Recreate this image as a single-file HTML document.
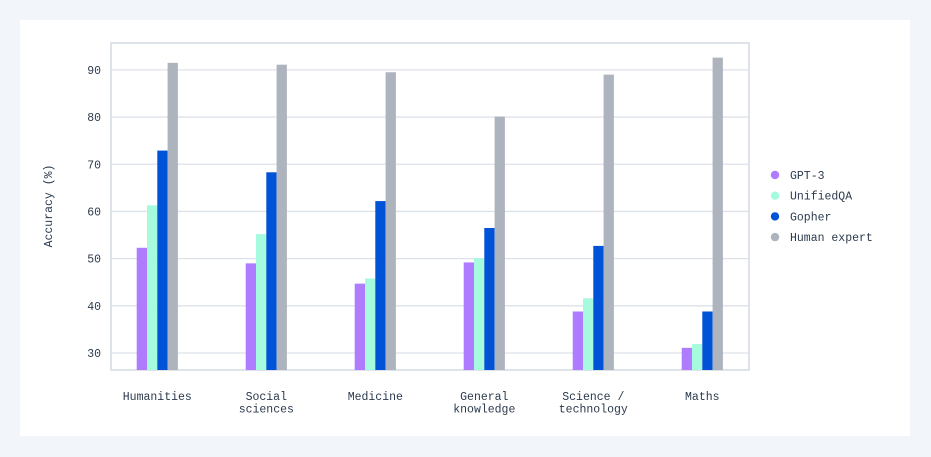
<!DOCTYPE html>
<html><head><meta charset="utf-8"><style>
html,body{margin:0;padding:0;background:#f2f5f9;width:931px;height:457px;overflow:hidden}
#card{position:absolute;left:20px;top:20px;width:890px;height:416px;background:#fff}
svg{position:absolute;left:0;top:0}
text{font-family:"Liberation Mono",monospace;font-size:11.5px;fill:#2b3a4d}
</style></head><body>
<div id="card"></div>
<svg id="chart" width="931" height="457"></svg>
<script>
const categories=[["Humanities"],["Social","sciences"],["Medicine"],["General","knowledge"],["Science /","technology"],["Maths"]];
const seriesNames=["GPT-3","UnifiedQA","Gopher","Human expert"];
const gpt3=[52.3,49.0,44.7,49.2,38.8,31.1];
const unifiedqa=[61.3,55.2,45.8,50.1,41.6,31.9];
const gopher=[72.9,68.3,62.2,56.5,52.7,38.8];
const human=[91.5,91.1,89.5,80.1,89.0,92.6];
const yTicks=[30,40,50,60,70,80,90];
const colors=["#b07cff","#a6fbdf","#0053d6","#aeb4be"];
const series=[gpt3,unifiedqa,gopher,human];
const NS="http://www.w3.org/2000/svg",svg=document.getElementById('chart');
const L=111,R=749,T=43,B=370,vMin=26.4,vMax=95.7;
const y=v=>B-(v-vMin)/(vMax-vMin)*(B-T);
const xc=i=>157.3+109*i;
const bw=10.3;
function mk(t,a){const e=document.createElementNS(NS,t);for(const k in a)e.setAttribute(k,a[k]);svg.appendChild(e);return e;}
yTicks.forEach(v=>{
 const g=mk('line',{x1:L,x2:R,y1:y(v),y2:y(v),stroke:'#dde2ea','stroke-width':1.3});
 
 
 const t=mk('text',{x:101,y:y(v)+4,'text-anchor':'end'});t.textContent=v;
 
 
});
const fr=mk('rect',{x:L,y:T,width:R-L,height:B-T,fill:'none',stroke:'#d3d9e2','stroke-width':1.5});


categories.forEach((c,i)=>{
 series.forEach((s,j)=>{
  const r=mk('rect',{x:xc(i)-2*bw+j*bw,y:y(s[i]),width:bw,height:B-y(s[i]),fill:colors[j]});
  
  
 });
 c.forEach((line,k)=>{
  const t=mk('text',{x:xc(i),y:400+k*12.5,'text-anchor':'middle'});t.textContent=line;
  
  
 });
});
const yt=mk('text',{x:0,y:0,transform:'translate(52,206) rotate(-90)','text-anchor':'middle'});yt.textContent='Accuracy (%)';


seriesNames.forEach((n,j)=>{
 const cy=175+j*20.7;
 const d=mk('circle',{cx:775,cy:cy,r:4.2,fill:colors[j]});
 
 
 const t=mk('text',{x:790,y:cy+4});t.textContent=n;
 
 
});
</script>
</body></html>
